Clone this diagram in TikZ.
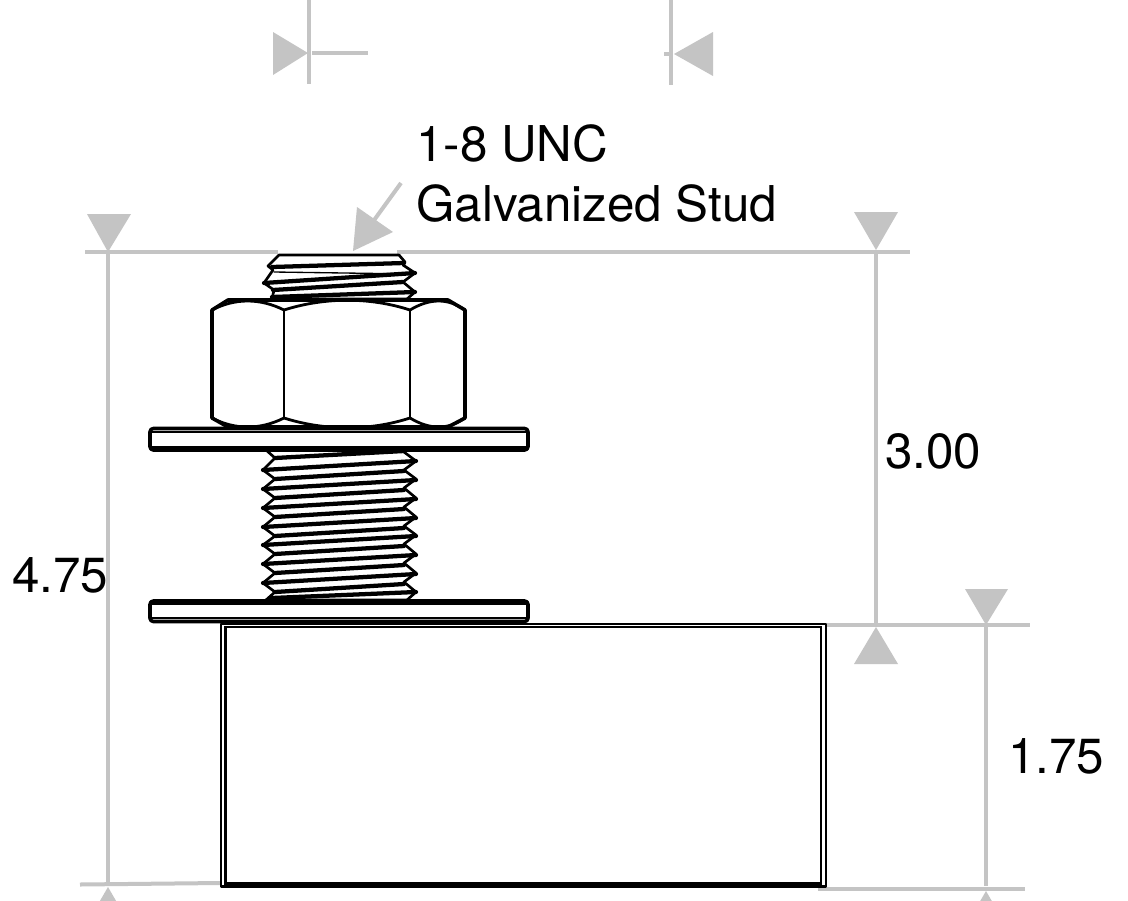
\documentclass[tikz,border=0pt]{standalone}
\usepackage{fontspec}
\setmainfont{TeX Gyre Heros}
\definecolor{dimgray}{HTML}{C4C4C4}
\tikzset{
  dimline/.style={draw=dimgray,line width=3pt},
  dimtip/.style={fill=dimgray,draw=none},
  part/.style={draw=black,line width=2.7pt,line join=round,fill=white},
  partthin/.style={draw=black,line width=1.5pt},
  boxline/.style={draw=black,line width=2pt},
  thread/.style={draw=black,line width=3.2pt,line cap=round},
  threadthin/.style={draw=black,line width=1pt,line cap=round},
  lbl/.style={font=\fontsize{37}{37}\selectfont,anchor=base west,inner sep=0pt,text=black}
}
\begin{document}
\begin{tikzpicture}[x=0.75pt,y=-0.75pt]
\useasboundingbox (0,0) rectangle (1128,900);
\clip (0,0) rectangle (1128,900);
\fill[white] (0,0) rectangle (1128,900);
% dimension lines
\draw[dimline] (85,252) -- (278,252);
\draw[dimline] (397,252) -- (910,252);
\draw[dimline] (108,252) -- (108,885);
\draw[dimline] (80,884.5) -- (220,883);
\draw[dimline] (876,252) -- (876,625);
\draw[dimline] (825,625) -- (1030,625);
\draw[dimline] (986,625) -- (986,886);
\draw[dimline] (818,889) -- (1025,889);
\draw[dimline] (309,0) -- (309,84);
\draw[dimline] (671,0) -- (671,85);
\draw[dimline] (312,53) -- (368,53);
\draw[dimline] (664,54) -- (671,54);
\draw[dimline] (401,183) -- (372,223);
% arrowheads
\fill[dimtip] (87,214) -- (131,214) -- (108,252) -- cycle;
\fill[dimtip] (854,212) -- (898,212) -- (876,250) -- cycle;
\fill[dimtip] (854,664) -- (898,664) -- (876,627) -- cycle;
\fill[dimtip] (965,589) -- (1008,589) -- (986,625) -- cycle;
\fill[dimtip] (86,925) -- (130,925) -- (108,887) -- cycle;
\fill[dimtip] (964,929) -- (1008,929) -- (986,891) -- cycle;
\fill[dimtip] (273,32) -- (273,75) -- (308,53) -- cycle;
\fill[dimtip] (713,32) -- (713,76) -- (674,54) -- cycle;
\fill[dimtip] (353,251) -- (357,207) -- (393,232) -- cycle;
% upper thread
\draw[part,line width=2pt] (279,255) -- (399,255) -- (405,262) -- (403,265) -- (415,273) -- (403,282) -- (415,292) -- (407,299) -- (272,299) -- (274,290) -- (264,283) -- (273,270) -- (268,266) -- cycle;
\draw[thread] (272,267) -- (404,263);
\draw[threadthin] (274,272) -- (414,274);
\draw[thread] (264,283) -- (415,273);
\draw[thread] (273,290) -- (403,282);
\draw[thread] (272,297) -- (415,292);
% lower thread
\draw[part,line width=2pt] (266,450) -- (275,458)
  \foreach \y in {470,489,508,527,545,564,583} {-- (263,\y) -- (275,\y+9)}
  -- (266,600) -- (407,600) -- (416,592)
  \foreach \y in {573,554,535,517,498,479,461} {-- (404,\y+9) -- (416,\y)}
  -- (404,452) -- (404,450) -- cycle;
\foreach \y in {470,489,508,527,545,564,583} {
  \draw[thread] (263,\y) -- (416,\y-9);
  \draw[thread] (275,\y+9) -- (404,\y+1);
}
\draw[thread] (275,458) -- (404,451);
\draw[thread] (272,598) -- (416,592);
% nut
\draw[part] (212,310) -- (228,300) -- (448,300) -- (465,310) -- (465,418) -- (448,427) -- (228,427) -- (212,418) -- cycle;
\draw[part,line width=2.1pt,fill=none] (212,310) .. controls (235,298) and (260,298) .. (284,310)
  .. controls (325,297) and (370,297) .. (410,310)
  .. controls (430,298) and (448,298) .. (465,310);
\draw[part,line width=2.1pt,fill=none] (212,418) .. controls (235,430) and (260,430) .. (284,418)
  .. controls (325,431) and (370,431) .. (410,418)
  .. controls (430,430) and (448,430) .. (465,418);
\draw[part,line width=2.1pt] (284,310) -- (284,418);
\draw[part,line width=2.1pt] (410,310) -- (410,418);
% washers
\draw[part,rounded corners=2.5pt] (150,428.5) rectangle (528,450);
\draw[partthin] (151,431.5) -- (527,431.5);
\draw[partthin] (151,446.5) -- (527,446.5);
\draw[part,rounded corners=2.5pt] (150,601) rectangle (528,621.5);
\draw[partthin] (151,604) -- (527,604);
\draw[partthin] (151,617.5) -- (527,617.5);
% box
\draw[boxline,line join=round] (221,624) rectangle (826,886.5);
\draw[boxline] (225.5,627) rectangle (821,883.5);
% text
\node[lbl] (studa) at (416,161) {1-8 UNC};
\node[lbl] (studb) at (416,221) {Galvanized Stud};
\node[lbl] (dimc) at (885,468) {3.00};
\node[lbl] (dima) at (12,592) {4.75};
\node[lbl] (dimb) at (1008,773) {1.75};
\end{tikzpicture}
\end{document}
